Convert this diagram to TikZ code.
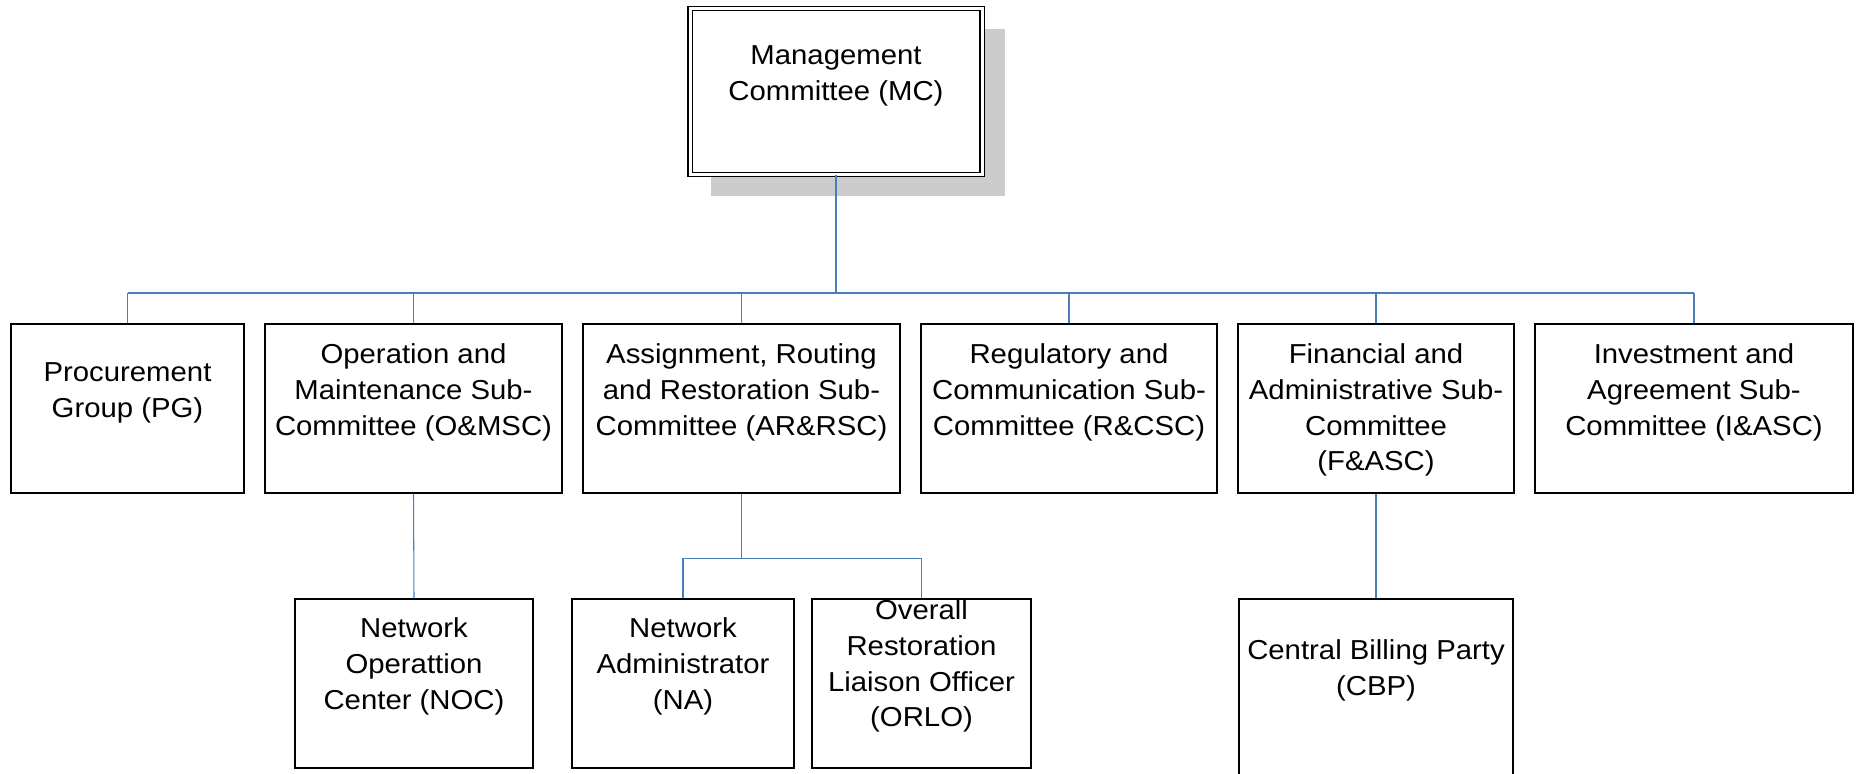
\documentclass[tikz,border=0pt]{standalone}
\usepackage{fontspec}
\setmainfont{Liberation Sans}[FakeStretch=1.07]
\usepackage{tikz}
\usepackage{xcolor}
\usetikzlibrary{backgrounds}

\definecolor{linjeblaa}{RGB}{74,126,187}
\definecolor{skygge}{RGB}{204,204,204}

% 1 enhet = 1 bildepunkt
\newlength\px
\setlength\px{0.02cm}
% boks: bredde, hoyde, luft over forste linje, tekst
\newcommand{\boks}[4]{\parbox[c][#2\px][t]{#1\px}{\centering\vspace*{#3\px}\strut #4}}

\begin{document}
\begin{tikzpicture}[x=0.02cm, y=-0.02cm,
    enhet/.style={draw=black, line width=0.8pt, inner sep=0pt, fill=white},
    gren/.style={draw=linjeblaa, line width=0.6pt},
    stamme/.style={draw=linjeblaa, line width=1.1pt},
    every node/.style={font=\fontsize{15.6}{20.3}\selectfont}]
    \useasboundingbox (0,0) rectangle (1856,774);

    % Styringskomiteen (dobbel ramme, skygge bak)
    \node[enhet, double, double distance=1.7pt, line width=0.75pt] (mc) at (836,91.5)
      {\boks{292}{166}{31.5}{Management\\Committee (MC)}};
    \begin{scope}[on background layer]
      \fill[skygge] ([shift={(22,21)}]mc.north west) rectangle ([shift={(22,21)}]mc.south east);
    \end{scope}

    % Forste nivaa: gruppe og underkomiteer
    \node[enhet] (pg) at (127.5,408.5) {\boks{233}{169}{33}{Procurement\\Group (PG)}};
    \node[enhet] (om) at (413.5,408.5) {\boks{297}{169}{15}{Operation and\\Maintenance Sub-\\Committee (O\&MSC)}};
    \node[enhet] (arr) at (741.5,408.5) {\boks{317}{169}{15}{Assignment, Routing\\and Restoration Sub-\\Committee (AR\&RSC)}};
    \node[enhet] (rc) at (1069,408.5) {\boks{296}{169}{15}{Regulatory and\\Communication Sub-\\Committee (R\&CSC)}};
    \node[enhet] (fa) at (1376,408.5) {\boks{276}{169}{15}{Financial and\\Administrative Sub-\\Committee\\(F\&ASC)}};
    \node[enhet] (ia) at (1694,408.5) {\boks{318}{169}{15}{Investment and\\Agreement Sub-\\Committee (I\&ASC)}};

    % Andre nivaa
    \node[enhet] (noc) at (414,683.5) {\boks{238}{169}{14}{Network\\Operattion\\Center (NOC)}};
    \node[enhet] (na) at (683,683.5) {\boks{222}{169}{14}{Network\\Administrator\\(NA)}};
    \node[enhet] (orlo) at (921.5,683.5) {\boks{219}{169}{-4}{Overall\\Restoration\\Liaison Officer\\(ORLO)}};
    \node[enhet] (cbp) at (1376,699.5) {\boks{274}{201}{36}{Central Billing Party\\(CBP)}};

    % Linjer fra MC ned til samleskinnen
    \coordinate (buss) at (836,293);
    \draw[stamme] (mc.south) -- (buss);
    \draw[stamme] (pg.north |- buss) -- (ia.north |- buss);
    \foreach \n in {pg,om,arr,rc,fa,ia}
      \draw[gren] (\n.north |- buss) -- (\n.north);

    % Linjer til andre nivaa
    \draw[gren] (om.south) -- (noc.north);
    \draw[gren] (fa.south) -- (cbp.north);
    \draw[gren] (arr.south) -- ++(0,65) -| (na.north);
    \draw[gren] (arr.south) -- ++(0,65) -| (orlo.north);
\end{tikzpicture}
\end{document}
